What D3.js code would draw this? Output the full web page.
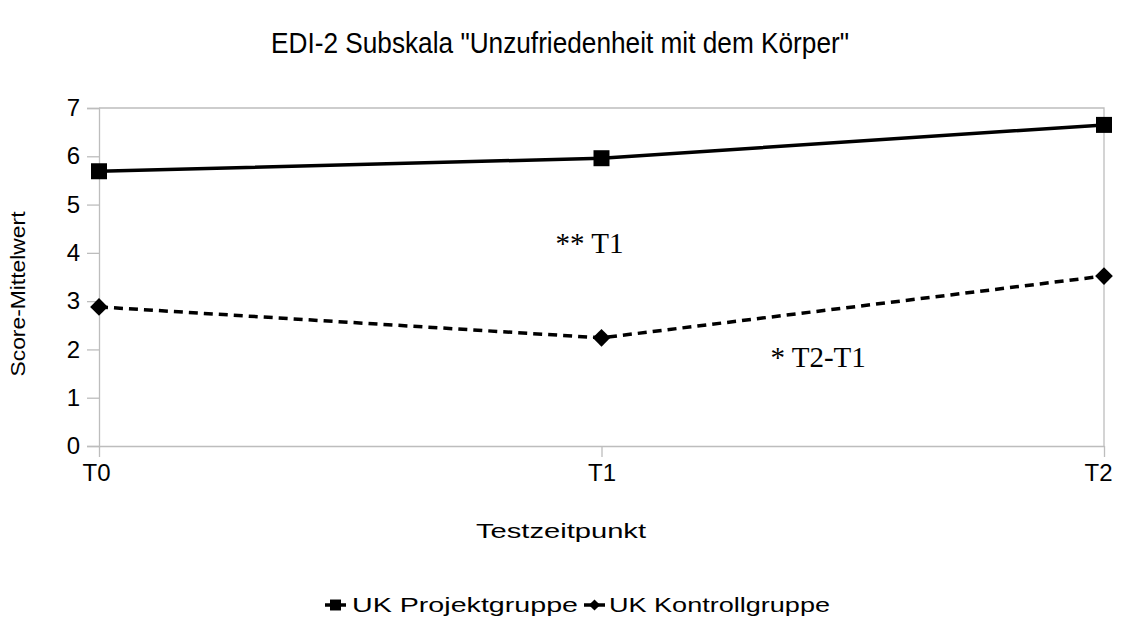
<!DOCTYPE html>
<html>
<head>
<meta charset="utf-8">
<script src="https://cdn.jsdelivr.net/npm/d3@7"></script>
<style>
  body { margin: 0; background: #fff; }
  text { font-family: "Liberation Sans", Arial, sans-serif; }
</style>
</head>
<body>
<div id="chart"></div>
<script>
// Chart data
var timepoints = ["T0", "T1", "T2"];
var projektgruppe = [5.69, 5.96, 6.65];
var kontrollgruppe = [2.88, 2.24, 3.52];
var yTicks = [0, 1, 2, 3, 4, 5, 6, 7];
var seriesNames = ["UK Projektgruppe", "UK Kontrollgruppe"];
var noteTexts = ["** T1", "* T2-T1"];
var noteValues = [4.0, 1.64];

var W = 1121, H = 619;
var margin = { top: 108, right: 17, bottom: 173, left: 99 },
    width = W - margin.left - margin.right,
    height = H - margin.top - margin.bottom;

var svg = d3.select("#chart")
    .append("svg")
    .attr("width", W)
    .attr("height", H);

// Title
svg.append("text")
    .attr("x", 560)
    .attr("y", 53)
    .attr("text-anchor", "middle")
    .attr("textLength", 578)
    .attr("lengthAdjust", "spacingAndGlyphs")
    .style("font-size", "29px")
    .text('EDI-2 Subskala "Unzufriedenheit mit dem Körper"');

var g = svg.append("g")
    .attr("transform", "translate(" + margin.left + "," + margin.top + ")");

// Scales
var x = d3.scalePoint()
    .domain(timepoints)
    .range([0, width]);

var y = d3.scaleLinear()
    .domain([0, 7])
    .range([height, 0]);

// Plot frame (top + right light border)
g.append("path")
    .attr("d", "M0,0H" + width + "V" + height)
    .attr("fill", "none")
    .attr("stroke", "#bdbdbd")
    .attr("stroke-width", 1.3);

// Y axis
var yAxis = g.append("g")
    .call(d3.axisLeft(y).tickValues(yTicks).tickSize(12).tickPadding(7).tickFormat(d3.format("d")));
yAxis.select(".domain").attr("stroke", "#bdbdbd").attr("stroke-width", 1.3);
yAxis.selectAll(".tick line").attr("stroke", "#bdbdbd").attr("stroke-width", 1.3);
yAxis.selectAll("text").style("font-size", "24px").attr("fill", "#000")
    .style("font-family", '"Liberation Sans", Arial, sans-serif');

// X axis
var xAxis = g.append("g")
    .attr("transform", "translate(0," + height + ")")
    .call(d3.axisBottom(x).tickSize(11).tickSizeOuter(0).tickPadding(7));
xAxis.select(".domain").attr("stroke", "#bdbdbd").attr("stroke-width", 1.3);
xAxis.selectAll(".tick line").attr("stroke", "#bdbdbd").attr("stroke-width", 1.3);
xAxis.selectAll("text").style("font-size", "24px").attr("fill", "#000")
    .style("font-family", '"Liberation Sans", Arial, sans-serif');
xAxis.selectAll(".tick text").attr("dx", function (d) { return d === "T0" ? -3 : (d === "T2" ? -6 : 0) });

// Axis titles
svg.append("text")
    .attr("transform", "translate(25,294) rotate(-90)")
    .attr("text-anchor", "middle")
    .attr("textLength", 165)
    .attr("lengthAdjust", "spacingAndGlyphs")
    .style("font-size", "20px")
    .text("Score-Mittelwert");

svg.append("text")
    .attr("x", 561)
    .attr("y", 538)
    .attr("text-anchor", "middle")
    .attr("textLength", 170)
    .attr("lengthAdjust", "spacingAndGlyphs")
    .style("font-size", "20px")
    .text("Testzeitpunkt");

// Lines
var line = d3.line()
    .x(function (d, i) { return x(timepoints[i]) })
    .y(function (d) { return y(d) });

g.append("path")
    .datum(projektgruppe)
    .attr("fill", "none")
    .attr("stroke", "#000")
    .attr("stroke-width", 3.5)
    .attr("d", line);

g.append("path")
    .datum(kontrollgruppe)
    .attr("fill", "none")
    .attr("stroke", "#000")
    .attr("stroke-width", 3.5)
    .attr("stroke-dasharray", "9,6")
    .attr("d", line);

// Markers
var square = d3.symbol().type(d3.symbolSquare).size(256);
var diamond = d3.symbol().type(d3.symbolDiamond2).size(200);

g.selectAll(".sq")
    .data(projektgruppe)
    .enter().append("path")
    .attr("class", "sq")
    .attr("d", square)
    .attr("transform", function (d, i) { return "translate(" + x(timepoints[i]) + "," + y(d) + ")" })
    .attr("fill", "#000");

g.selectAll(".dm")
    .data(kontrollgruppe)
    .enter().append("path")
    .attr("class", "dm")
    .attr("d", diamond)
    .attr("transform", function (d, i) { return "translate(" + x(timepoints[i]) + "," + y(d) + ")" })
    .attr("fill", "#000");

// Significance notes (placed relative to T1)
var noteOffsets = [-46, 169];
g.selectAll(".note")
    .data(noteTexts)
    .enter().append("text")
    .attr("class", "note")
    .attr("x", function (d, i) { return x("T1") + noteOffsets[i] })
    .attr("y", function (d, i) { return y(noteValues[i]) })
    .style("font-family", '"Liberation Serif", "Times New Roman", serif')
    .style("font-size", "29px")
    .text(function (d) { return d });

// Legend
var legend = svg.append("g").attr("transform", "translate(325,612)");
var legendX = [0, 259];
var legendW = [226, 221];
seriesNames.forEach(function (name, i) {
    var item = legend.append("g").attr("transform", "translate(" + legendX[i] + ",0)");
    item.append("line")
        .attr("x1", 0).attr("x2", 21).attr("y1", -7).attr("y2", -7)
        .attr("stroke", "#000").attr("stroke-width", 3.5);
    item.append("path")
        .attr("d", i === 0 ? d3.symbol().type(d3.symbolSquare).size(120)() : d3.symbol().type(d3.symbolDiamond2).size(80)())
        .attr("transform", "translate(10.5,-7)")
        .attr("fill", "#000");
    item.append("text")
        .attr("x", i === 0 ? 27 : 25)
        .attr("y", 0)
        .attr("textLength", legendW[i])
        .attr("lengthAdjust", "spacingAndGlyphs")
        .style("font-size", "21px")
        .text(name);
});
</script>
</body>
</html>
